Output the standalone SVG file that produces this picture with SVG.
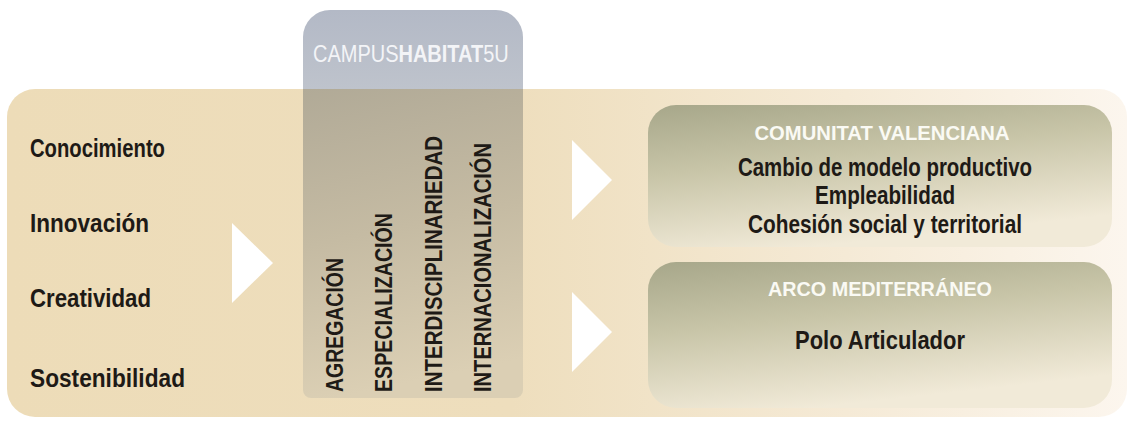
<svg xmlns="http://www.w3.org/2000/svg" width="1131" height="427" viewBox="0 0 1131 427">
<defs>
<linearGradient id="gTan" x1="0" y1="0" x2="1" y2="0">
<stop offset="0" stop-color="#EDDCB8"/>
<stop offset="0.45" stop-color="#EEDEBD"/>
<stop offset="0.75" stop-color="#F5EAD6"/>
<stop offset="1" stop-color="#FCF6EE"/>
</linearGradient>
<linearGradient id="gTab" x1="0" y1="0" x2="0" y2="1">
<stop offset="0" stop-color="#B3B9C6"/>
<stop offset="1" stop-color="#BEC3CC"/>
</linearGradient>
<linearGradient id="gCol" x1="0" y1="0" x2="0.15" y2="1">
<stop offset="0" stop-color="#B1AA97"/>
<stop offset="0.5" stop-color="#C5BBA3"/>
<stop offset="1" stop-color="#DBCFB4"/>
</linearGradient>
<linearGradient id="gBox" x1="0" y1="0" x2="0.35" y2="1">
<stop offset="0" stop-color="#A7A78A"/>
<stop offset="0.45" stop-color="#C8C5A8"/>
<stop offset="1" stop-color="#F1EAD8"/>
</linearGradient>
<style>
.lbl{font-family:"Liberation Sans Narrow","Liberation Sans",Arial,sans-serif;font-weight:bold;font-size:26px;fill:#1E1A16}
.vert{font-family:"Liberation Sans Narrow","Liberation Sans",Arial,sans-serif;font-weight:bold;font-size:23px;fill:#1E1A16}
.ttl{font-family:"Liberation Sans Narrow","Liberation Sans",Arial,sans-serif;font-weight:bold;font-size:21px;fill:#FAFAF4;text-anchor:middle}
.txt{font-family:"Liberation Sans Narrow","Liberation Sans",Arial,sans-serif;font-weight:bold;font-size:25px;fill:#1E1A16;text-anchor:middle}
.cmp{font-family:"Liberation Sans",Arial,sans-serif;font-size:20px;fill:#F3F4F7}
.arr{fill:#FFFFFF}
</style>
</defs>
<rect x="0" y="0" width="1131" height="427" fill="#FFFFFF"/>
<g id="background">
<rect x="7" y="89" width="1120" height="328" rx="28" fill="url(#gTan)"/>
</g>
<g id="campus">
<path d="M303,89 V37 A27,27 0 0 1 330,10 H496 A27,27 0 0 1 523,37 V89 Z" fill="url(#gTab)"/>
<path d="M303,89 H523 V390 A8,8 0 0 1 515,398 H311 A8,8 0 0 1 303,390 Z" fill="url(#gCol)"/>
<text class="cmp" transform="translate(0,62) scale(1,1.16)" x="313" y="0">CAMPUS<tspan font-weight="bold">HABITAT</tspan>5U</text>
<text class="vert" transform="translate(343,392) rotate(-90)" textLength="134" lengthAdjust="spacingAndGlyphs">AGREGACIÓN</text>
<text class="vert" transform="translate(392,392) rotate(-90)" textLength="179" lengthAdjust="spacingAndGlyphs">ESPECIALIZACIÓN</text>
<text class="vert" transform="translate(442,392) rotate(-90)" textLength="256" lengthAdjust="spacingAndGlyphs">INTERDISCIPLINARIEDAD</text>
<text class="vert" transform="translate(491,392) rotate(-90)" textLength="249" lengthAdjust="spacingAndGlyphs">INTERNACIONALIZACIÓN</text>
</g>
<g id="values">
<text class="lbl" x="30" y="157" textLength="135" lengthAdjust="spacingAndGlyphs">Conocimiento</text>
<text class="lbl" x="30" y="232" textLength="119" lengthAdjust="spacingAndGlyphs">Innovación</text>
<text class="lbl" x="30" y="307" textLength="121" lengthAdjust="spacingAndGlyphs">Creatividad</text>
<text class="lbl" x="30" y="387" textLength="155" lengthAdjust="spacingAndGlyphs">Sostenibilidad</text>
</g>
<g id="box-comunitat">
<rect x="648" y="105" width="464" height="142" rx="28" fill="url(#gBox)"/>
<text class="ttl" x="882" y="140" textLength="255" lengthAdjust="spacingAndGlyphs">COMUNITAT VALENCIANA</text>
<text class="txt" x="885" y="176" textLength="294" lengthAdjust="spacingAndGlyphs">Cambio de modelo productivo</text>
<text class="txt" x="885" y="204" textLength="140" lengthAdjust="spacingAndGlyphs">Empleabilidad</text>
<text class="txt" x="885" y="233" textLength="274" lengthAdjust="spacingAndGlyphs">Cohesión social y territorial</text>
</g>
<g id="box-arco">
<rect x="648" y="262" width="464" height="146" rx="28" fill="url(#gBox)"/>
<text class="ttl" x="880" y="296" textLength="224" lengthAdjust="spacingAndGlyphs">ARCO MEDITERRÁNEO</text>
<text class="txt" x="880" y="349" textLength="170" lengthAdjust="spacingAndGlyphs">Polo Articulador</text>
</g>
<g id="connectors">
<polygon class="arr" points="232,223 273,263 232,303"/>
<polygon class="arr" points="572,140 612,180 572,220"/>
<polygon class="arr" points="572,292 612,332 572,372"/>
</g>
</svg>
